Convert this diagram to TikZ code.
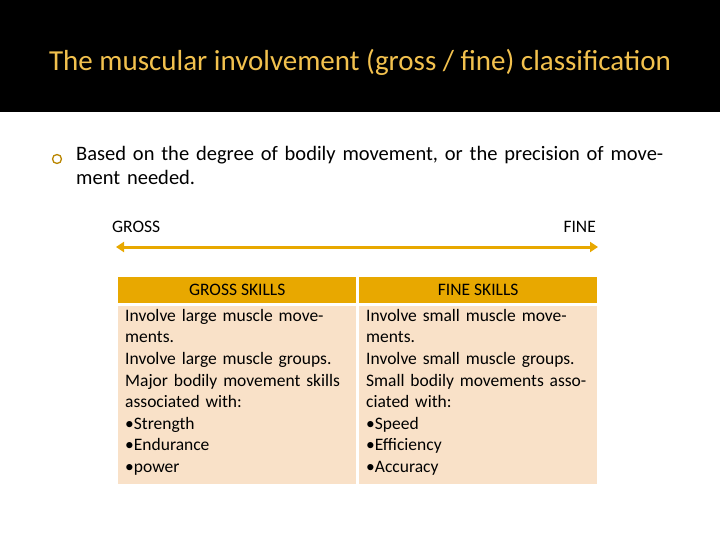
\documentclass[tikz,border=0pt]{standalone}
\usepackage{fontspec}
\setmainfont{Carlito}
\usetikzlibrary{arrows.meta}
\definecolor{gold}{HTML}{E8A800}
\definecolor{ttl}{HTML}{F2C14E}
\definecolor{peach}{HTML}{F9E1C8}
\tikzset{x=1pt,y=-1pt,
 hdr/.style={fill=gold,minimum width=238pt,minimum height=26pt,inner sep=0pt,font=\fontsize{17.5}{20}\selectfont},
 cell/.style={fill=peach,minimum width=238pt,minimum height=178pt,inner sep=0pt,anchor=north west},
 body/.style={inner sep=0pt,text width=230pt,align=left,anchor=north west,font=\fontsize{17.5}{21.6}\selectfont},
 lbl/.style={font=\fontsize{17.5}{20}\selectfont,inner sep=0pt}}
\begin{document}
\begin{tikzpicture}
\useasboundingbox (0,0) rectangle (720,540);
\fill[white] (0,0) rectangle (720,540);
\fill[black] (0,0) rectangle (720,112);
\node[text=ttl,font=\fontsize{29}{34}\selectfont,inner sep=0pt] (title) at (360,62) {The muscular involvement (gross / fine) classification};
\node[draw=gold!80!black,line width=1.3pt,circle,minimum size=9pt,inner sep=0pt] (bul) at (57,159) {};
\node[anchor=north west,inner sep=0pt,text width=620pt,align=left,font=\fontsize{20.5}{24}\selectfont] (txt) at (76,146) {Based on the degree of bodily movement, or the precision of movement needed.};
\node[lbl,anchor=west] (gross) at (112,227) {GROSS};
\node[lbl,anchor=east] (fine) at (596,227) {FINE};
\coordinate (al) at (116,247);
\coordinate (ar) at (598,247);
\draw[gold,line width=3pt,{Triangle[length=8pt,width=10pt]}-{Triangle[length=8pt,width=10pt]}] (al) -- (ar);
\node[hdr,anchor=north west] (h1) at (118,277) {GROSS SKILLS};
\node[hdr,anchor=north west] (h2) at (359,277) {FINE SKILLS};
\node[cell] (c1) at (118,306) {};
\node[cell] (c2) at (359,306) {};
\node[body] (b1) at (125,309) {Involve large muscle movements.\\Involve large muscle groups.\\Major bodily movement skills associated with:\\•Strength\\•Endurance\\•power};
\node[body] (b2) at (366,309) {Involve small muscle movements.\\Involve small muscle groups.\\Small bodily movements associated with:\\•Speed\\•Efficiency\\•Accuracy};
\end{tikzpicture}
\end{document}
